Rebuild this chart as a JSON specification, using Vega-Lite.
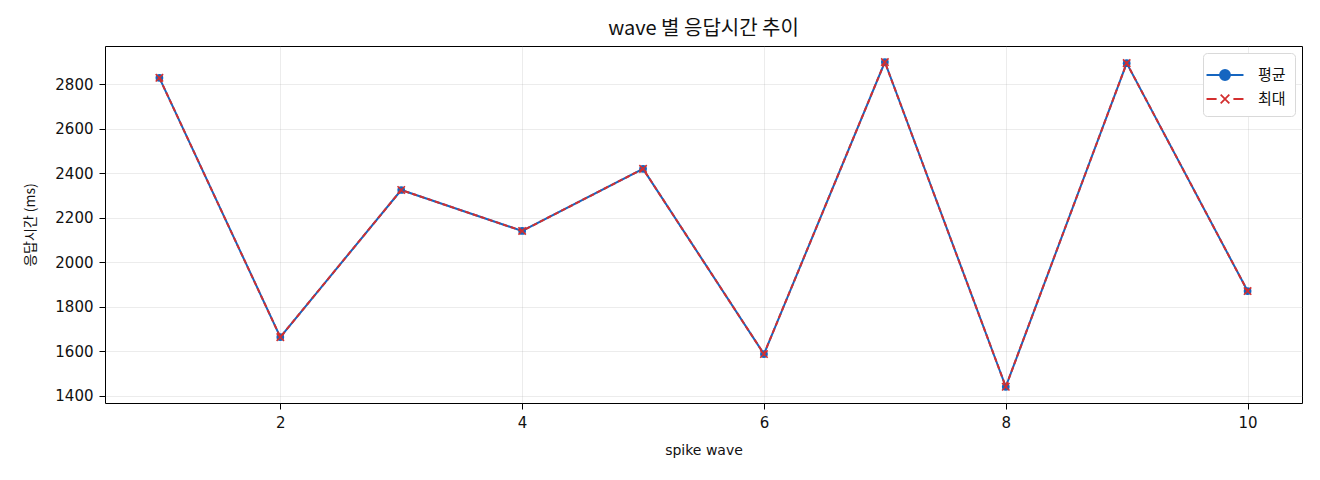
{
  "$schema": "https://vega.github.io/schema/vega-lite/v6.json",
  "width": 1197,
  "height": 357,
  "autosize": "none",
  "padding": {"left": 105, "top": 46, "right": 18, "bottom": 77},
  "background": "white",
  "title": {
    "text": "wave 별 응답시간 추이",
    "font": "Noto Sans CJK KR",
    "fontSize": 20,
    "fontWeight": "normal",
    "color": "#111111",
    "offset": 7
  },
  "data": {
    "values": [
      {"wave": 1, "series": "평균", "ms": 2828},
      {"wave": 2, "series": "평균", "ms": 1663},
      {"wave": 3, "series": "평균", "ms": 2324},
      {"wave": 4, "series": "평균", "ms": 2140},
      {"wave": 5, "series": "평균", "ms": 2419},
      {"wave": 6, "series": "평균", "ms": 1587},
      {"wave": 7, "series": "평균", "ms": 2899},
      {"wave": 8, "series": "평균", "ms": 1440},
      {"wave": 9, "series": "평균", "ms": 2894},
      {"wave": 10, "series": "평균", "ms": 1870},
      {"wave": 1, "series": "최대", "ms": 2828},
      {"wave": 2, "series": "최대", "ms": 1663},
      {"wave": 3, "series": "최대", "ms": 2324},
      {"wave": 4, "series": "최대", "ms": 2140},
      {"wave": 5, "series": "최대", "ms": 2419},
      {"wave": 6, "series": "최대", "ms": 1587},
      {"wave": 7, "series": "최대", "ms": 2899},
      {"wave": 8, "series": "최대", "ms": 1440},
      {"wave": 9, "series": "최대", "ms": 2894},
      {"wave": 10, "series": "최대", "ms": 1870}
    ]
  },
  "encoding": {
    "x": {
      "field": "wave",
      "type": "quantitative",
      "title": "spike wave",
      "scale": {"domain": [0.55, 10.45], "nice": false, "zero": false},
      "axis": {"values": [2, 4, 6, 8, 10], "format": "d", "titleFont": "DejaVu Sans", "titleFontSize": 14, "titlePadding": 13}
    },
    "y": {
      "field": "ms",
      "type": "quantitative",
      "title": "응답시간 (ms)",
      "scale": {"domain": [1367, 2971], "nice": false, "zero": false},
      "axis": {"values": [1400, 1600, 1800, 2000, 2200, 2400, 2600, 2800], "format": "d", "titlePadding": 17}
    },
    "color": {
      "field": "series",
      "type": "nominal",
      "scale": {"domain": ["평균", "최대"], "range": ["#1565C0", "#D32F2F"]},
      "legend": {
        "title": null,
        "orient": "top-right",
        "offset": 7,
        "padding": 9,
        "fillColor": "white",
        "strokeColor": "#d9d9d9",
        "cornerRadius": 4,
        "symbolType": "circle",
        "symbolSize": 576,
        "symbolStrokeWidth": 1.8,
        "labelFont": "Noto Sans CJK KR",
        "labelFontSize": 15,
        "labelColor": "#111111",
        "labelOffset": 20,
        "rowPadding": 2,
        "encode": {
          "symbols": {
            "update": {
              "shape": {"signal": "datum.value === '평균' ? 'M-1.54,0H1.54M0.42,0A0.42,0.42 0 1 1 -0.42,0A0.42,0.42 0 1 1 0.42,0' : 'M-1.54,0H-0.7M0.7,0H1.54M-0.36,-0.36L0.36,0.36M-0.36,0.36L0.36,-0.36'"},
              "fill": {"signal": "datum.value === '평균' ? '#1565C0' : 'transparent'"},
              "stroke": {"signal": "datum.value === '평균' ? '#1565C0' : '#D32F2F'"},
              "opacity": {"value": 1},
              "fillOpacity": {"value": 1},
              "strokeOpacity": {"value": 1}
            }
          }
        }
      }
    }
  },
  "layer": [
    {
      "transform": [{"filter": "datum.series === '평균'"}],
      "mark": {"type": "line", "strokeWidth": 2}
    },
    {
      "transform": [{"filter": "datum.series === '평균'"}],
      "mark": {"type": "point", "shape": "circle", "filled": true, "size": 60, "opacity": 1}
    },
    {
      "transform": [{"filter": "datum.series === '최대'"}],
      "mark": {"type": "line", "strokeWidth": 2, "strokeDash": [5, 3]}
    },
    {
      "transform": [{"filter": "datum.series === '최대'"}],
      "mark": {
        "type": "point",
        "shape": "M-1,-1L1,1M-1,1L1,-1",
        "filled": false,
        "size": 55,
        "strokeWidth": 1.6,
        "opacity": 1
      }
    }
  ],
  "config": {
    "font": "Noto Sans CJK KR",
    "view": {"stroke": "black", "strokeWidth": 1},
    "axis": {
      "domain": false,
      "grid": true,
      "gridColor": "#b0b0b0",
      "gridOpacity": 0.3,
      "gridWidth": 0.8,
      "tickColor": "black",
      "tickSize": 6,
      "labelFont": "DejaVu Sans",
      "labelFontSize": 15,
      "labelColor": "#111111",
      "labelPadding": 6,
      "titleFont": "Noto Sans CJK KR",
      "titleFontSize": 14,
      "titleFontWeight": "normal",
      "titleColor": "#111111"
    }
  }
}
